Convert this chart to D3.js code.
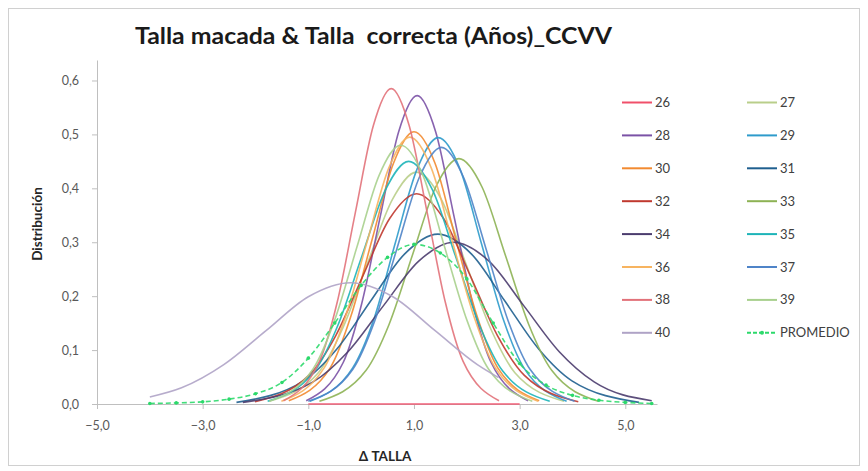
<!DOCTYPE html>
<html>
<head>
<meta charset="utf-8">
<script src="https://cdn.jsdelivr.net/npm/d3@7"></script>
<style>
  body { margin: 0; background: #fff; }
  text { font-family: Lato, "Open Sans", sans-serif; }
</style>
</head>
<body>
<div id="vis"></div>
<script>
// frame size
const FRAME_WIDTH = 868;
const FRAME_HEIGHT = 471;
const PLOT = {left: 97, right: 657, top: 60, bottom: 404};

// data
const SERIES = ["26", "27", "28", "29", "30", "31", "32", "33", "34", "35", "36", "37", "38", "39", "40", "PROMEDIO"];
const X_TICKS = [-5, -3, -1, 1, 3, 5];
const Y_TICKS = [0, 0.1, 0.2, 0.3, 0.4, 0.5, 0.6];

const X26 = [-1.0, 3.0];
const Y26 = [0, 0];
const X27 = [-1.74, -0.81, -0.35, 0.12, 0.59, 1.05, 1.52, 1.98, 2.45, 2.91, 3.84];
const Y27 = [0.005, 0.058, 0.140, 0.261, 0.379, 0.430, 0.379, 0.261, 0.140, 0.058, 0.005];
const X28 = [-1.04, -0.34, 0.01, 0.36, 0.71, 1.06, 1.41, 1.76, 2.11, 2.46, 3.16];
const Y28 = [0.006, 0.077, 0.186, 0.347, 0.505, 0.572, 0.505, 0.347, 0.186, 0.077, 0.006];
const X29 = [-0.97, -0.16, 0.25, 0.65, 1.06, 1.46, 1.87, 2.27, 2.68, 3.08, 3.89];
const Y29 = [0.005, 0.067, 0.160, 0.300, 0.436, 0.494, 0.436, 0.300, 0.160, 0.067, 0.005];
const X30 = [-1.37, -0.58, -0.19, 0.21, 0.61, 1.00, 1.40, 1.79, 2.19, 2.58, 3.37];
const Y30 = [0.006, 0.068, 0.164, 0.306, 0.446, 0.505, 0.446, 0.306, 0.164, 0.068, 0.006];
const X31 = [-2.36, -1.09, -0.46, 0.18, 0.82, 1.45, 2.09, 2.72, 3.36, 3.99, 5.26];
const Y31 = [0.003, 0.043, 0.102, 0.191, 0.278, 0.315, 0.278, 0.191, 0.102, 0.043, 0.003];
const X32 = [-2.01, -0.99, -0.48, 0.03, 0.54, 1.05, 1.56, 2.07, 2.58, 3.09, 4.11];
const Y32 = [0.004, 0.053, 0.127, 0.237, 0.344, 0.390, 0.344, 0.237, 0.127, 0.053, 0.004];
const X33 = [-0.79, 0.09, 0.53, 0.97, 1.41, 1.85, 2.29, 2.73, 3.17, 3.61, 4.49];
const Y33 = [0.005, 0.062, 0.148, 0.276, 0.402, 0.455, 0.402, 0.276, 0.148, 0.062, 0.005];
const X34 = [-2.24, -0.91, -0.25, 0.42, 1.09, 1.75, 2.42, 3.08, 3.75, 4.41, 5.50];
const Y34 = [0.003, 0.041, 0.097, 0.182, 0.265, 0.300, 0.265, 0.182, 0.097, 0.041, 0.006];
const X35 = [-1.77, -0.88, -0.44, 0.01, 0.46, 0.90, 1.35, 1.79, 2.24, 2.68, 3.57];
const Y35 = [0.005, 0.061, 0.146, 0.273, 0.397, 0.450, 0.397, 0.273, 0.146, 0.061, 0.005];
const X36 = [-1.51, -0.70, -0.30, 0.11, 0.52, 0.92, 1.33, 1.73, 2.14, 2.54, 3.35];
const Y36 = [0.005, 0.067, 0.161, 0.300, 0.437, 0.495, 0.437, 0.300, 0.161, 0.067, 0.005];
const X37 = [-1.00, -0.16, 0.26, 0.68, 1.10, 1.52, 1.94, 2.36, 2.78, 3.20, 4.04];
const Y37 = [0.005, 0.064, 0.155, 0.289, 0.420, 0.476, 0.420, 0.289, 0.155, 0.064, 0.005];
const X38 = [-1.47, -0.79, -0.45, -0.11, 0.23, 0.57, 0.91, 1.25, 1.59, 1.93, 2.61];
const Y38 = [0.006, 0.079, 0.190, 0.355, 0.516, 0.585, 0.516, 0.355, 0.190, 0.079, 0.006];
const X39 = [-1.74, -0.91, -0.50, -0.08, 0.34, 0.75, 1.17, 1.58, 2.00, 2.41, 3.24];
const Y39 = [0.005, 0.065, 0.156, 0.291, 0.424, 0.480, 0.424, 0.291, 0.156, 0.065, 0.005];
const X40 = [-4.0, -3.4, -2.6, -1.8, -1.0, -0.2, 0.6, 1.4, 2.2, 2.6];
const Y40 = [0.013, 0.030, 0.073, 0.136, 0.199, 0.225, 0.199, 0.136, 0.073, 0.049];
const XPROM = [-4.0, -3.5, -3.0, -2.5, -2.0, -1.5, -1.0, -0.5, 0.0, 0.5, 1.0, 1.5, 2.0, 2.5, 3.0, 3.5, 4.0, 4.5, 5.0, 5.5];
const YPROM = [0.001, 0.002, 0.004, 0.009, 0.019, 0.040, 0.085, 0.150, 0.220, 0.272, 0.296, 0.280, 0.232, 0.150, 0.075, 0.035, 0.016, 0.007, 0.003, 0.001];

const XS = [X26, X27, X28, X29, X30, X31, X32, X33, X34, X35, X36, X37, X38, X39, X40, XPROM];
const YS = [Y26, Y27, Y28, Y29, Y30, Y31, Y32, Y33, Y34, Y35, Y36, Y37, Y38, Y39, Y40, YPROM];

// styles
const COLORS = ["#F0506A", "#B9CE8A", "#7B52A6", "#2E9BCB", "#F28A30", "#1F5F8F", "#C0392F", "#8DB254",
                "#4B3C6E", "#1DB4B8", "#F7B460", "#4F84C8", "#E2727A", "#A8D08D", "#AFA3C6", "#2CD96B"];

const LINES = SERIES.map((name, i) => ({
	name: name,
	color: COLORS[i],
	points: XS[i].map((x, j) => ({x: x, y: YS[i][j]}))
}));

const FRAME = d3.select("#vis")
				.append("svg")
					.attr("width", FRAME_WIDTH)
					.attr("height", FRAME_HEIGHT);

// chart border
FRAME.append("rect")
		.attr("x", 8.5).attr("y", 8.5)
		.attr("width", 851).attr("height", 457)
		.attr("fill", "none")
		.attr("stroke", "#d0d0d0");

// scales
const X_SCALE = d3.scaleLinear().domain([-5, 5.6]).range([PLOT.left, PLOT.right]);
const Y_SCALE = d3.scaleLinear().domain([0, 0.638]).range([PLOT.bottom, PLOT.top]);
const comma = (f) => (d) => d3.format(f)(d).replace(".", ",");

// axes
const xAxis = FRAME.append("g")
		.attr("transform", "translate(0," + PLOT.bottom + ")")
		.call(d3.axisBottom(X_SCALE).tickValues(X_TICKS).tickFormat(comma(".1f")).tickSize(5).tickSizeOuter(0).tickPadding(12));
const yAxis = FRAME.append("g")
		.attr("transform", "translate(" + PLOT.left + ",0)")
		.call(d3.axisLeft(Y_SCALE).tickValues(Y_TICKS).tickFormat(comma(".1f")).tickSize(5).tickSizeOuter(0).tickPadding(13));

[xAxis, yAxis].forEach((g) => {
	g.selectAll("path, line").attr("stroke", "#bfbfbf");
	g.selectAll("text").attr("fill", "#595959").attr("font-size", "12.5px").attr("font-family", "Lato, sans-serif");
});

// curves
const line = d3.line()
				.x((d) => X_SCALE(d.x))
				.y((d) => Y_SCALE(d.y))
				.curve(d3.curveMonotoneX);

FRAME.append("g")
		.selectAll("path")
		.data(LINES)
		.enter()
		.append("path")
			.attr("d", (d) => line(d.points))
			.attr("fill", "none")
			.attr("stroke", (d) => d.color)
			.attr("stroke-width", 1.6)
			.attr("stroke-dasharray", (d) => d.name === "PROMEDIO" ? "5,3" : null)
			.attr("opacity", 0.9);

// markers on PROMEDIO
const prom = LINES[LINES.length - 1];
FRAME.append("g")
		.selectAll("circle")
		.data(prom.points)
		.enter()
		.append("circle")
			.attr("cx", (d) => X_SCALE(d.x))
			.attr("cy", (d) => Y_SCALE(d.y))
			.attr("r", 1.8)
			.attr("fill", prom.color);

// legend
const legend = FRAME.append("g")
		.selectAll("g")
		.data(LINES)
		.enter()
		.append("g")
			.attr("transform", (d, i) => "translate(" + (622 + (i % 2) * 125) + "," + (102.5 + Math.floor(i / 2) * 32.9) + ")");

legend.append("line")
		.attr("x1", 0).attr("x2", 30)
		.attr("stroke", (d) => d.color)
		.attr("stroke-width", 2)
		.attr("stroke-dasharray", (d) => d.name === "PROMEDIO" ? "4,2" : null);
legend.filter((d) => d.name === "PROMEDIO")
		.append("circle")
			.attr("cx", 15).attr("r", 2)
			.attr("fill", (d) => d.color);
legend.append("text")
		.attr("x", 33).attr("y", 4.5)
		.attr("font-size", "13px")
		.attr("fill", "#404040")
		.text((d) => d.name);

// titles
FRAME.append("text")
		.attr("x", 373.5).attr("y", 44)
		.attr("text-anchor", "middle")
		.attr("font-size", "22px").attr("font-weight", "bold")
		.attr("textLength", 477).attr("lengthAdjust", "spacingAndGlyphs")
		.attr("fill", "#1a1a1a")
		.style("white-space", "pre")
		.text("Talla macada & Talla  correcta (Años)_CCVV");

FRAME.append("text")
		.attr("x", 385).attr("y", 461)
		.attr("text-anchor", "middle")
		.attr("font-size", "13.5px").attr("font-weight", "bold")
		.attr("fill", "#262626")
		.text("Δ TALLA");

FRAME.append("text")
		.attr("transform", "translate(42,224) rotate(-90)")
		.attr("text-anchor", "middle")
		.attr("font-size", "13.5px").attr("font-weight", "bold")
		.attr("fill", "#262626")
		.text("Distribución");
</script>
</body>
</html>
